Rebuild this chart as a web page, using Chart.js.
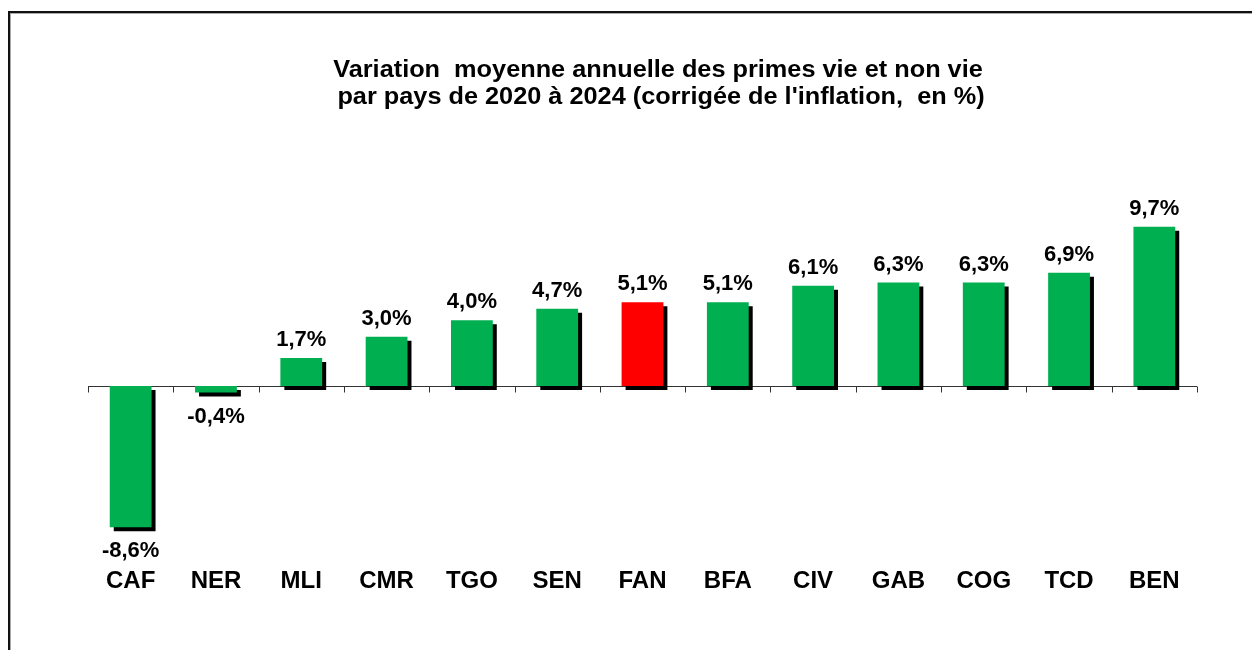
<!DOCTYPE html>
<html>
<head>
<meta charset="utf-8">
<script src="https://cdn.jsdelivr.net/npm/chart.js@4/dist/chart.umd.min.js"></script>
<style>
	html, body { margin: 0; padding: 0; background: #fff; overflow: hidden; }
	#wrap { position: relative; width: 1252px; height: 650px; }
	#frame {
		position: absolute; left: 8px; top: 11px; width: 1400px; height: 800px;
		border-left: 2px solid #111; border-top: 2px solid #111;
		box-shadow: inset 1px 1px 0 #aaa;
	}
	canvas { position: absolute; left: 0; top: 0; }
</style>
</head>
<body>
<div id="wrap">
	<div id="frame"></div>
	<canvas id="chart" width="1252" height="650"></canvas>
</div>
<script>
var countries = ['CAF', 'NER', 'MLI', 'CMR', 'TGO', 'SEN', 'FAN', 'BFA', 'CIV', 'GAB', 'COG', 'TCD', 'BEN'];
var variation = [-8.6, -0.4, 1.7, 3.0, 4.0, 4.7, 5.1, 5.1, 6.1, 6.3, 6.3, 6.9, 9.7];
var titleLines = [
	'Variation  moyenne annuelle des primes vie et non vie',
	'par pays de 2020 à 2024 (corrigée de l\'inflation,  en %)'
];

var green = '#00B050';
var red = '#FF0000';
var fontFamily = '"Liberation Sans", Arial, sans-serif';

Chart.defaults.font.family = fontFamily;
Chart.defaults.color = '#000';

// FAN is the zone aggregate, shown in red
var barColors = countries.map(function (c) { return c === 'FAN' ? red : green; });

var formatPct = function (v) {
	return v.toFixed(1).replace('.', ',') + '%';
};

var decorPlugin = {
	id: 'decor',
	beforeDatasetsDraw: function (chart) {
		var ctx = chart.ctx;
		var x = chart.scales.x;
		var y0 = Math.round(chart.scales.y.getPixelForValue(0)) + 0.5;
		var step = (x.right - x.left) / countries.length;

		// zero line with tick marks between categories
		ctx.save();
		ctx.strokeStyle = '#333';
		ctx.lineWidth = 1;
		ctx.beginPath();
		ctx.moveTo(x.left, y0);
		ctx.lineTo(x.right, y0);
		for (var i = 0; i <= countries.length; i++) {
			var tx = Math.round(x.left + i * step) + 0.5;
			ctx.moveTo(tx, y0);
			ctx.lineTo(tx, y0 + 6);
		}
		ctx.stroke();
		ctx.restore();

		// hard black shadow behind the bars
		ctx.save();
		ctx.shadowColor = '#000';
		ctx.shadowOffsetX = 4;
		ctx.shadowOffsetY = 4;
		ctx.shadowBlur = 0;
	},
	afterDatasetsDraw: function (chart) {
		var ctx = chart.ctx;
		ctx.restore();

		// value labels
		ctx.save();
		ctx.font = 'bold 22px ' + fontFamily;
		ctx.fillStyle = '#000';
		ctx.textAlign = 'center';
		ctx.textBaseline = 'alphabetic';
		chart.getDatasetMeta(0).data.forEach(function (bar, i) {
			var v = variation[i];
			var ty = v >= 0 ? bar.y - 12 : bar.y + 30;
			ctx.fillText(formatPct(v), bar.x, ty);
		});
		ctx.restore();
	},
	afterDraw: function (chart) {
		// title is a little wider than the font, as in the original
		var ctx = chart.ctx;
		ctx.save();
		ctx.font = 'bold 23px ' + fontFamily;
		ctx.fillStyle = '#000';
		ctx.textAlign = 'center';
		ctx.textBaseline = 'alphabetic';
		ctx.scale(1.1, 1);
		ctx.fillText(titleLines[0], 658 / 1.1, 77);
		ctx.fillText(titleLines[1], 661 / 1.1, 104);
		ctx.restore();
	}
};

new Chart(document.getElementById('chart'), {
	type: 'bar',
	data: {
		labels: countries,
		datasets: [{
			data: variation,
			backgroundColor: barColors,
			borderWidth: 0,
			categoryPercentage: 1,
			barPercentage: 0.49
		}]
	},
	options: {
		responsive: false,
		animation: false,
		layout: {
			padding: { left: 88, right: 55, top: 189, bottom: 37 }
		},
		plugins: {
			legend: { display: false },
			title: { display: false },
			tooltip: { enabled: false }
		},
		scales: {
			x: {
				grid: { display: false, drawTicks: false },
				border: { display: false },
				ticks: {
					padding: 17,
					color: '#000',
					font: { size: 24, weight: 'bold' }
				}
			},
			y: {
				display: false,
				min: -10,
				max: 12
			}
		}
	},
	plugins: [decorPlugin]
});
</script>
</body>
</html>
